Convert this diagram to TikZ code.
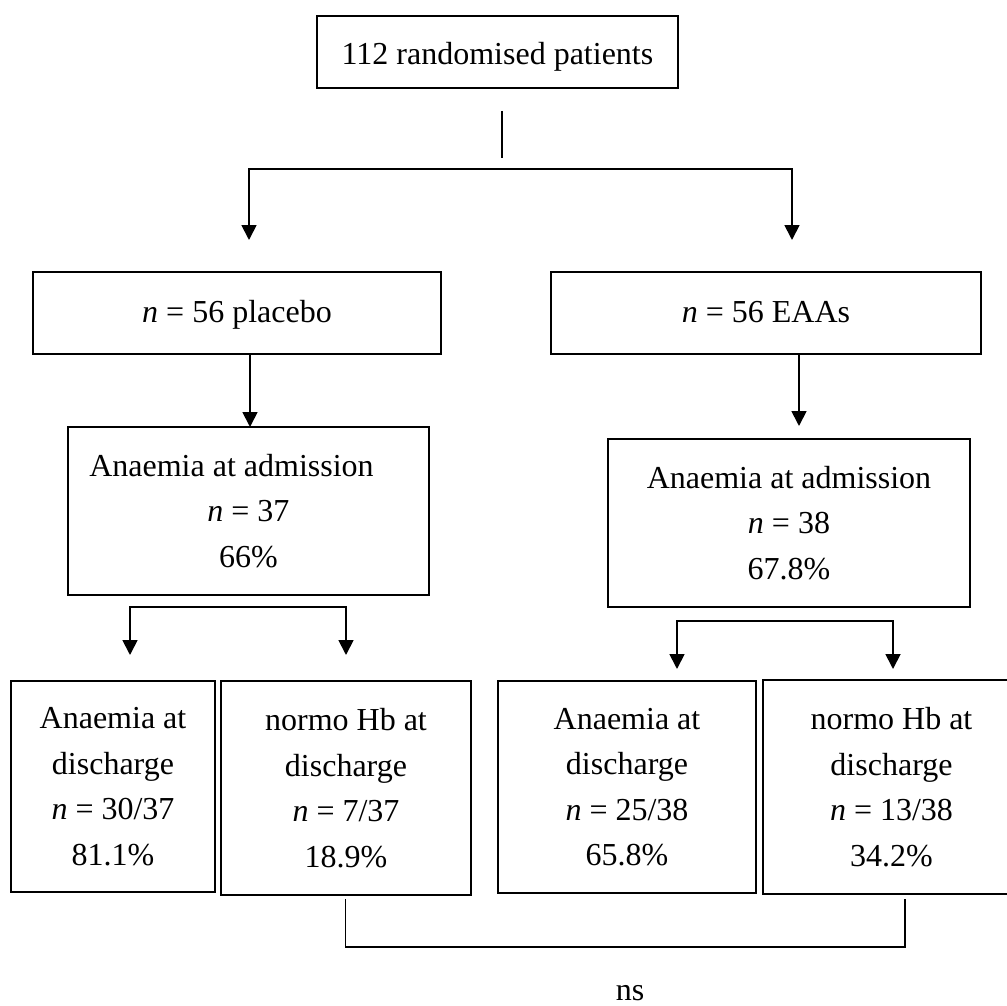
\documentclass[tikz,border=0pt]{standalone}
\usepackage{fontspec}
\setmainfont{Liberation Serif}
\usetikzlibrary{arrows.meta}
\begin{document}
\begin{tikzpicture}[x=1pt,y=-1pt,
  box/.style={draw, line width=1.4pt, inner sep=0pt, align=center, font=\fontsize{32}{45.5}\selectfont},
  oneline/.style={text height=#1, text depth=0pt},
  ln/.style={line width=1.8pt},
  arr/.style={ln, -{Triangle[width=15pt,length=15pt]}},
  barr/.style={ln, {Triangle[width=15pt,length=15pt]}-{Triangle[width=15pt,length=15pt]}}]
\useasboundingbox (0,0) rectangle (1007,1006);

% boxes
\node[box, oneline=26pt, minimum width=361pt, minimum height=72pt] (top) at (497.5,52) {112 randomised patients};
\node[box, oneline=18pt, minimum width=408pt, minimum height=82pt] (plac) at (237,313) {\textit{n} = 56 placebo};
\node[box, oneline=18pt, minimum width=430pt, minimum height=82pt] (eaa) at (766,313) {\textit{n} = 56 EAAs};
\node[box, minimum width=361pt, minimum height=168pt] (adL) at (248.5,511) {Anaemia at admission\rule{34pt}{0pt}\\\textit{n} = 37\\66\%};
\node[box, minimum width=362pt, minimum height=168pt] (adR) at (789,523) {Anaemia at admission\\\textit{n} = 38\\67.8\%};
\node[box, minimum width=204pt, minimum height=211pt] (b1) at (113,786.5) {Anaemia at\\discharge\\\textit{n} = 30/37\\81.1\%};
\node[box, minimum width=250pt, minimum height=214pt] (b2) at (346,788) {normo Hb at\\discharge\\\textit{n} = 7/37\\18.9\%};
\node[box, minimum width=258pt, minimum height=212pt] (b3) at (627,787) {Anaemia at\\discharge\\\textit{n} = 25/38\\65.8\%};
\node[box, minimum width=257pt, minimum height=214pt] (b4) at (891.5,787) {normo Hb at\\discharge\\\textit{n} = 13/38\\34.2\%};
\node[font=\fontsize{32}{38}\selectfont, anchor=base, inner sep=0pt] (ns) at (630,1000) {ns};

% top split
\coordinate (v1) at (502,111);
\coordinate (v2) at (502,158);
\draw[ln] (v1) -- (v2);
\coordinate (sL) at (249,240);
\coordinate (sR) at (792,240);
\coordinate (hy) at (0,169);
\draw[barr] (sL) -- (sL |- hy) -- (sR |- hy) -- (sR);

% group to admission
\coordinate (aL) at (250,427);
\draw[arr] (plac.south -| aL) -- (aL);
\coordinate (aR) at (799,426);
\draw[arr] (eaa.south -| aR) -- (aR);

% admission splits
\coordinate (lL) at (130,655);
\coordinate (lR) at (346,655);
\coordinate (ly) at (0,607);
\draw[barr] (lL) -- (lL |- ly) -- (lR |- ly) -- (lR);
\coordinate (rL) at (677,669);
\coordinate (rR) at (893,669);
\coordinate (ry) at (0,621);
\draw[barr] (rL) -- (rL |- ry) -- (rR |- ry) -- (rR);

% bottom comparison bracket
\coordinate (c1) at (345.5,899);
\coordinate (c2) at (905,899);
\coordinate (cy) at (0,947);
\draw[ln] (c1) -- (c1 |- cy) -- (c2 |- cy) -- (c2);
\end{tikzpicture}
\end{document}
